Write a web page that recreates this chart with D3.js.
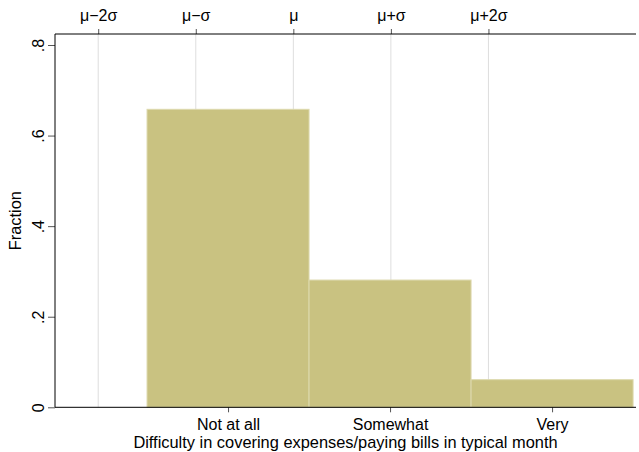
<!DOCTYPE html>
<html>
<head>
<meta charset="utf-8">
<script src="https://cdn.jsdelivr.net/npm/d3@7"></script>
<style>
  html, body { margin: 0; padding: 0; background: #fff; }
  svg { display: block; font-family: "Liberation Sans", Arial, sans-serif; }
</style>
</head>
<body>
<svg id="chart" width="639" height="452"></svg>
<script>
// Histogram of a three-level categorical answer, shown as fractions
const categories = ["Not at all", "Somewhat", "Very"];
const categoryValues = [1, 2, 3];
const fractions = [0.658, 0.281, 0.061];
const yTickValues = [0, 0.2, 0.4, 0.6, 0.8];
const yTickLabels = ["0", ".2", ".4", ".6", ".8"];
const sigmaMultiples = [-2, -1, 0, 1, 2];
const sigmaLabels = ["\u03bc\u22122\u03c3", "\u03bc\u2212\u03c3", "\u03bc", "\u03bc+\u03c3", "\u03bc+2\u03c3"];
const xTitle = "Difficulty in covering expenses/paying bills in typical month";
const yTitle = "Fraction";

// Mean and standard deviation of the distribution
const total = d3.sum(fractions);
const mu = d3.sum(categoryValues.map((v, i) => v * fractions[i])) / total;
const sigma = Math.sqrt(d3.sum(categoryValues.map((v, i) => (v - mu) ** 2 * fractions[i])) / total);

const svg = d3.select("#chart");
const plot = { left: 55, right: 636, top: 34, bottom: 407.3 };

const x = d3.scaleLinear().domain([-0.068, 3.518]).range([plot.left, plot.right]);
const y = d3.scaleLinear().domain([0, 0.8]).range([plot.bottom, 45]);

const barColor = "#c9c281";
const axisColor = "#000";
const tickColor = "#555";
const fontSize = 16.4;
const tickFontSize = 16;
const font = "'Liberation Sans', Arial, sans-serif";

// Reference lines at mu + k*sigma
svg.append("g").selectAll("line").data(sigmaMultiples).join("line")
  .attr("x1", k => x(mu + k * sigma)).attr("x2", k => x(mu + k * sigma))
  .attr("y1", plot.top).attr("y2", plot.bottom)
  .attr("stroke", "#dedede").attr("stroke-width", 1);

// Bars, one unit wide around each category value
svg.append("g").selectAll("rect").data(categoryValues).join("rect")
  .attr("x", (v) => x(v - 0.5))
  .attr("width", (v) => x(v + 0.5) - x(v - 0.5))
  .attr("y", (v, i) => y(fractions[i]))
  .attr("height", (v, i) => y(0) - y(fractions[i]))
  .attr("fill", barColor)
  .attr("stroke", "#ddd9ae")
  .attr("stroke-width", 1);

// Bottom axis
const xAxis = d3.axisBottom(x).tickValues(categoryValues)
  .tickFormat((d, i) => categories[i]).tickSize(5);
const gx = svg.append("g").attr("transform", `translate(0,${plot.bottom})`).call(xAxis);

// Top axis with sigma markers
const topAxis = d3.axisTop(x).tickValues(sigmaMultiples.map(k => mu + k * sigma))
  .tickFormat((d, i) => sigmaLabels[i]).tickSize(5);
const gt = svg.append("g").attr("transform", `translate(0,${plot.top})`).call(topAxis);

// Left axis
const yAxis = d3.axisLeft(y).tickValues(yTickValues)
  .tickFormat((d, i) => yTickLabels[i]).tickSize(7);
const gy = svg.append("g").attr("transform", `translate(${plot.left},0)`).call(yAxis);

[gx, gt, gy].forEach(g => {
  g.select(".domain").remove();
  g.selectAll(".tick line").attr("stroke", tickColor);
  g.selectAll("text").attr("fill", "#000").style("font-size", tickFontSize + "px")
    .style("font-family", font);
});

// Label baselines
gx.selectAll(".tick text").attr("y", 22.5).attr("dy", null);
gt.selectAll(".tick text").attr("y", -13.5).attr("dy", null);

// Rotate the y tick labels to read bottom-to-top
gy.selectAll(".tick text")
  .attr("x", null).attr("dy", null)
  .attr("text-anchor", "middle")
  .attr("transform", "translate(-11.5,0) rotate(-90)");

// Axis lines
svg.append("line").attr("x1", plot.left).attr("x2", plot.right)
  .attr("y1", plot.bottom).attr("y2", plot.bottom).attr("stroke", axisColor);
svg.append("line").attr("x1", plot.left).attr("x2", plot.right)
  .attr("y1", plot.top).attr("y2", plot.top).attr("stroke", axisColor);
svg.append("line").attr("x1", plot.left).attr("x2", plot.left)
  .attr("y1", plot.top).attr("y2", plot.bottom).attr("stroke", axisColor);

// Axis titles
svg.append("text")
  .attr("x", (plot.left + plot.right) / 2).attr("y", 448.2)
  .attr("text-anchor", "middle").style("font-size", fontSize + "px")
  .text(xTitle);
svg.append("text")
  .attr("transform", `translate(21,${(plot.top + plot.bottom) / 2}) rotate(-90)`)
  .attr("text-anchor", "middle").style("font-size", fontSize + "px")
  .text(yTitle);
</script>
</body>
</html>
